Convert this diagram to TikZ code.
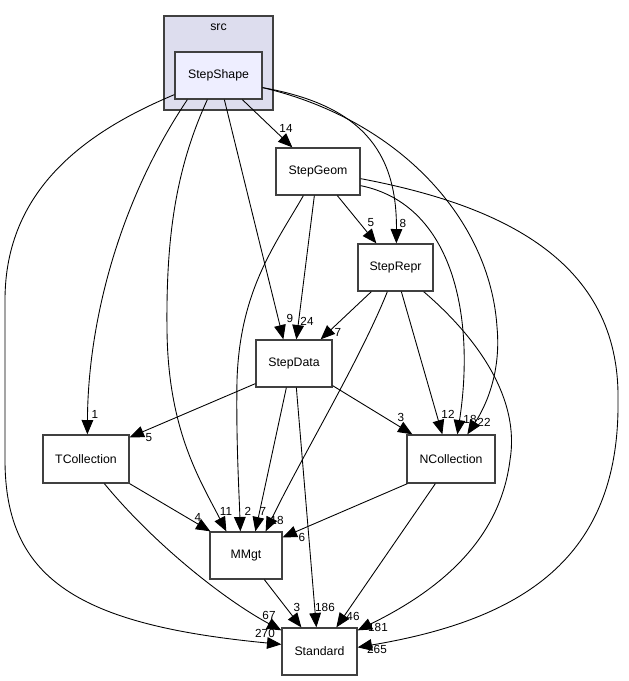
\documentclass[tikz,border=0pt]{standalone}
\usepackage{fontspec}
\setmainfont{Liberation Sans}
\usetikzlibrary{arrows.meta,calc}
\definecolor{clusterfill}{RGB}{221,221,238}
\definecolor{topfill}{RGB}{238,238,255}
\definecolor{boxline}{RGB}{64,64,64}

\begin{document}
\begin{tikzpicture}[
    x=0.03cm,y=-0.03cm,
    dirbox/.style={rectangle,draw=boxline,line width=1.1pt,fill=white,minimum height=1.41cm,inner sep=0pt,font=\fontsize{10.5}{12}\selectfont},
    topbox/.style={dirbox,fill=topfill},
    cluster/.style={rectangle,draw=boxline,line width=1.1pt,fill=clusterfill,minimum width=3.27cm,minimum height=2.82cm,inner sep=0pt},
    lbl/.style={inner sep=0pt,font=\fontsize{10}{12}\selectfont},
    dep/.style={line width=0.75pt,-{Triangle[length=4.3mm,width=3.5mm]}}
]
    \useasboundingbox (0,0) rectangle (629,681);

    % Directory nodes
    \node[cluster] (src) at (218.5,63) {};
    \node[lbl,font=\fontsize{10.5}{12}\selectfont] (srclbl) at (218.5,27) {src};
    \node[topbox,minimum width=2.61cm] (StepShape) at (218.5,75.5) {StepShape};
    \node[dirbox,minimum width=2.52cm] (StepGeom) at (318,171.5) {StepGeom};
    \node[dirbox,minimum width=2.25cm] (StepRepr) at (395.5,267.5) {StepRepr};
    \node[dirbox,minimum width=2.28cm] (StepData) at (294,363.5) {StepData};
    \node[dirbox,minimum width=2.58cm,minimum height=1.44cm] (TCollection) at (86,459) {TCollection};
    \node[dirbox,minimum width=2.64cm,minimum height=1.44cm] (NCollection) at (451,459) {NCollection};
    \node[dirbox,minimum width=2.16cm] (MMgt) at (246,555.5) {MMgt};
    \node[dirbox,minimum width=2.25cm] (Standard) at (319.5,651.5) {Standard};

    % Dependencies from StepShape
    \draw[dep] ($(StepShape.south west)+(68,0)$) -- ($(StepGeom.north west)+(17,0)$);
    \draw[dep] ($(StepShape.south east)+(0,-12)$) .. controls (360,105) and (397,150) .. ($(StepRepr.north west)+(39,0)$);
    \draw[dep] ($(StepShape.south east)+(0,-12)$) .. controls (400,120) and (490,220) .. (497,327)
        .. controls (502,380) and (480,415) .. ($(NCollection.north west)+(61,0)$);
    \draw[dep] ($(StepShape.south west)+(50,0)$) -- ($(StepData.north west)+(28,0)$);
    \draw[dep] ($(StepShape.south west)+(33,0)$) .. controls (175,170) and (166,240) .. (167,330)
        .. controls (168,430) and (200,480) .. ($(MMgt.north west)+(17,0)$);
    \draw[dep] ($(StepShape.south west)+(13,0)$) .. controls (120,200) and (88,320) .. ($(TCollection.north west)+(45,0)$);
    \draw[dep] ($(StepShape.south west)+(0,-5)$) .. controls (85,132) and (5,190) .. (5,300) -- (5,460)
        .. controls (5,580) and (80,625) .. ($(Standard.north west)+(0,17)$);

    % Dependencies from StepGeom
    \draw[dep] ($(StepGeom.south west)+(62,0)$) -- ($(StepRepr.north west)+(19,0)$);
    \draw[dep] ($(StepGeom.south west)+(39,0)$) -- ($(StepData.north west)+(41,0)$);
    \draw[dep] ($(StepGeom.south west)+(28,0)$) .. controls (275,245) and (240,290) .. (237,380)
        .. controls (236,440) and (239,490) .. ($(MMgt.north west)+(31,0)$);
    \draw[dep] ($(StepGeom.south east)+(0,-10)$) .. controls (455,205) and (475,320) .. ($(NCollection.north west)+(51,0)$);
    \draw[dep] ($(StepGeom.south east)+(0,-17)$) .. controls (500,205) and (620,260) .. (618,400)
        .. controls (620,560) and (520,620) .. ($(Standard.north east)+(0,20)$);

    % Dependencies from StepRepr
    \draw[dep] ($(StepRepr.south west)+(14,0)$) -- ($(StepData.north east)+(-12,0)$);
    \draw[dep] ($(StepRepr.south west)+(30,0)$) .. controls (360,360) and (300,460) .. ($(MMgt.north east)+(-17,0)$);
    \draw[dep] ($(StepRepr.south west)+(44,0)$) -- ($(NCollection.north west)+(36,0)$);
    \draw[dep] ($(StepRepr.south east)+(-10,0)$) .. controls (480,340) and (520,400) .. (510,460)
        .. controls (500,540) and (440,590) .. ($(Standard.north east)+(0,3)$);

    % Dependencies from StepData
    \draw[dep] ($(StepData.south west)+(0,-4)$) -- ($(TCollection.north east)+(0,3)$);
    \draw[dep] ($(StepData.south west)+(31,0)$) -- ($(MMgt.north west)+(46,0)$);
    \draw[dep] ($(StepData.south west)+(41,0)$) -- ($(Standard.north west)+(35,0)$);
    \draw[dep] ($(StepData.south east)+(0,-2)$) -- ($(NCollection.north west)+(6,0)$);

    % Dependencies from the lower layer
    \draw[dep] (TCollection.south east) -- ($(MMgt.north west)+(1,0)$);
    \draw[dep] ($(TCollection.south west)+(62,0)$) .. controls (155,545) and (225,600) .. ($(Standard.north west)+(0,3)$);
    \draw[dep] ($(NCollection.south west)+(1,0)$) -- ($(MMgt.north east)+(0,6)$);
    \draw[dep] ($(NCollection.south west)+(29,0)$) -- ($(Standard.north west)+(55,0)$);
    \draw[dep] ($(MMgt.south west)+(55,0)$) -- ($(Standard.north west)+(20,0)$);

    % Edge counts
    \node[lbl] (n14) at (286,128) {14};
    \node[lbl] (n8) at (403,223) {8};
    \node[lbl] (n22) at (484,422) {22};
    \node[lbl] (n9) at (290,318) {9};
    \node[lbl] (n11) at (226,511) {11};
    \node[lbl] (n1) at (95,414) {1};
    \node[lbl] (n270) at (265,633) {270};
    \node[lbl] (n5a) at (371,223) {5};
    \node[lbl] (n24) at (307,321) {24};
    \node[lbl] (n2) at (248,511) {2};
    \node[lbl] (n18a) at (470,419) {18};
    \node[lbl] (n265) at (377,649) {265};
    \node[lbl] (n7a) at (338,332) {7};
    \node[lbl] (n18b) at (277,520) {18};
    \node[lbl] (n12) at (448,414) {12};
    \node[lbl] (n181) at (378,627) {181};
    \node[lbl] (n5b) at (149,438) {5};
    \node[lbl] (n7b) at (263,511) {7};
    \node[lbl] (n186) at (325,607) {186};
    \node[lbl] (n3a) at (401,417) {3};
    \node[lbl] (n4) at (198,517) {4};
    \node[lbl] (n67) at (269,615) {67};
    \node[lbl] (n6) at (302,537) {6};
    \node[lbl] (n46) at (353,616) {46};
    \node[lbl] (n3b) at (297,607) {3};
\end{tikzpicture}
\end{document}
